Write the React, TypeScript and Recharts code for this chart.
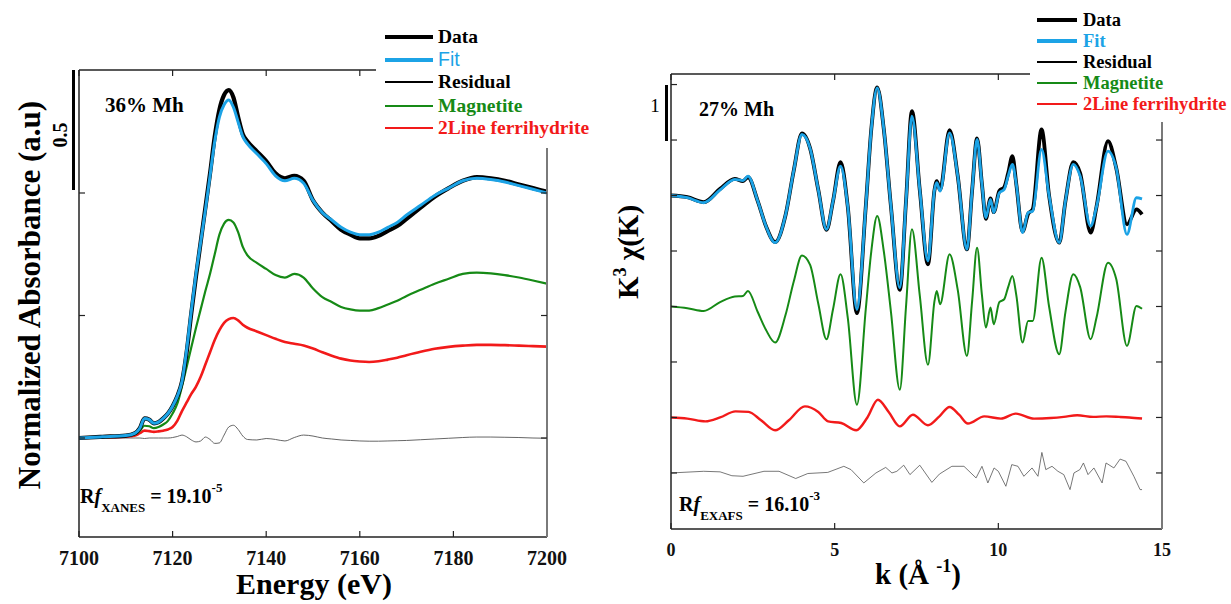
import React from "react";
import { LineChart, Line, XAxis, YAxis } from "recharts";

const SERIF = '"Liberation Serif", "Times New Roman", serif';
const SANS = '"Liberation Sans", Arial, sans-serif';

const BLACK = "#000000";
const BLUE = "#1ca3e6";
const GREEN = "#168a16";
const RED = "#f21a1a";

// ---------- XANES (left panel) ----------
const XANES_E = [
  7100, 7105, 7110, 7112, 7113, 7114, 7115, 7116, 7117, 7118, 7119, 7120, 7121, 7122, 7123, 7124,
  7125, 7126, 7127, 7128, 7129, 7130, 7131, 7132, 7133, 7134, 7135, 7136, 7138, 7140, 7142, 7144,
  7146, 7148, 7150, 7152, 7154, 7156, 7158, 7160, 7162, 7164, 7166, 7168, 7170, 7173, 7176, 7179,
  7182, 7185, 7188, 7191, 7194, 7197, 7200,
];
const XANES_DATA = [
  0, 0.005, 0.01, 0.02, 0.04, 0.08, 0.075, 0.06, 0.065, 0.08, 0.1, 0.13, 0.17, 0.23, 0.35, 0.51,
  0.66, 0.8, 0.94, 1.08, 1.23, 1.34, 1.4, 1.42, 1.39, 1.31, 1.24, 1.21, 1.17, 1.13, 1.08, 1.06,
  1.07, 1.05, 0.97, 0.92, 0.885, 0.85, 0.83, 0.815, 0.815, 0.825, 0.845, 0.865, 0.895, 0.94, 0.985, 1.02,
  1.05, 1.065, 1.06, 1.05, 1.035, 1.02, 1.005,
];
const XANES_FIT = [
  0, 0.005, 0.01, 0.02, 0.04, 0.08, 0.075, 0.06, 0.065, 0.08, 0.1, 0.13, 0.17, 0.23, 0.36, 0.52,
  0.67, 0.8, 0.93, 1.07, 1.21, 1.31, 1.36, 1.38, 1.35, 1.29, 1.23, 1.2, 1.16, 1.12, 1.07, 1.05,
  1.06, 1.04, 0.97, 0.92, 0.89, 0.86, 0.84, 0.83, 0.83, 0.84, 0.86, 0.88, 0.91, 0.95, 0.99, 1.02,
  1.05, 1.06, 1.055, 1.045, 1.03, 1.015, 1.0,
];
const XANES_MAGNETITE = [
  0, 0.003, 0.008, 0.015, 0.03, 0.05, 0.048, 0.04, 0.045, 0.055, 0.07, 0.1, 0.14, 0.21, 0.29, 0.37,
  0.45, 0.525, 0.6, 0.67, 0.75, 0.83, 0.875, 0.89, 0.88, 0.84, 0.78, 0.745, 0.715, 0.69, 0.665, 0.655,
  0.67, 0.655, 0.61, 0.575, 0.555, 0.535, 0.525, 0.52, 0.52, 0.53, 0.545, 0.56, 0.58, 0.605, 0.63, 0.65,
  0.67, 0.675, 0.672, 0.665, 0.655, 0.643, 0.63,
];
const XANES_FERRI = [
  0, 0.002, 0.005, 0.01, 0.02, 0.03, 0.028, 0.025, 0.027, 0.03, 0.035, 0.045, 0.07, 0.11, 0.145, 0.18,
  0.21, 0.25, 0.3, 0.35, 0.4, 0.44, 0.47, 0.485, 0.49, 0.48, 0.462, 0.45, 0.435, 0.42, 0.405, 0.392,
  0.385, 0.378, 0.365, 0.35, 0.336, 0.324, 0.316, 0.312, 0.31, 0.313, 0.32, 0.328, 0.338, 0.352, 0.364, 0.372,
  0.377, 0.38, 0.38, 0.379, 0.377, 0.375, 0.373,
];
const XANES_RESIDUAL = [
  0, 0, 0, 0, 0, -0.002, 0, 0, 0, 0, 0, 0.002, 0.006, 0.012, 0.005, -0.008,
  -0.016, -0.012, 0.004, -0.006, -0.022, -0.02, 0.012, 0.045, 0.052, 0.035, 0.008, -0.006, -0.008, -0.002, -0.006, -0.012,
  0.002, 0.012, 0.008, 0, -0.004, -0.008, -0.01, -0.012, -0.013, -0.013, -0.012, -0.011, -0.01, -0.007, -0.004, -0.001,
  0.002, 0.004, 0.004, 0.003, 0.002, 0, -0.001,
];
const XANES_TICKS = [7100, 7120, 7140, 7160, 7180, 7200];
const XANES_Y_TICKS = [0, 0.5, 1];

// ---------- EXAFS (right panel) ----------
const K_MAIN = [
  0, 0.5, 1.0, 1.5, 1.95, 2.2, 2.35, 2.65, 2.9, 3.18, 3.5, 3.75, 4.0, 4.25, 4.5, 4.75, 4.95, 5.18,
  5.4, 5.68, 5.95, 6.12, 6.3, 6.5, 6.72, 6.99, 7.18, 7.36, 7.6, 7.85, 8.05, 8.12, 8.22, 8.51, 8.76,
  9.04, 9.2, 9.35, 9.5, 9.62, 9.76, 9.86, 10.03, 10.18, 10.3, 10.43, 10.55, 10.74, 10.91, 11.05,
  11.32, 11.55, 11.86, 12.05, 12.29, 12.5, 12.82, 13.0, 13.35, 13.6, 13.93, 14.22, 14.39,
];
const EXAFS_FIT = [
  0, -0.04, -0.13, 0.1, 0.29, 0.27, 0.35, -0.1, -0.55, -0.85, -0.35, 0.45, 1.1, 0.85, 0.1, -0.61, -0.1, 0.53,
  -0.2, -2.05, -0.2, 1.2, 1.94, 1.2, -0.2, -1.66, -0.1, 1.43, 0.1, -1.18, 0.1, 0.23, 0.08, 1.13, 0.35,
  -0.97, 0.1, 1.01, 0.2, -0.4, -0.07, -0.31, 0.05, 0.11, 0.35, 0.56, 0.2, -0.67, -0.31, -0.28,
  0.83, 0, -0.85, -0.1, 0.56, 0.35, -0.55, -0.2, 0.8, 0.5, -0.7, -0.04, -0.06,
];
const EXAFS_DATA = [
  0, -0.03, -0.12, 0.12, 0.3, 0.26, 0.33, -0.1, -0.55, -0.84, -0.35, 0.45, 1.12, 0.85, 0.1, -0.62, -0.1, 0.6,
  -0.2, -2.12, -0.2, 1.2, 1.95, 1.2, -0.2, -1.7, -0.1, 1.52, 0.1, -1.24, 0.1, 0.26, 0.1, 1.18, 0.35,
  -0.97, 0.1, 1.03, 0.2, -0.42, -0.05, -0.3, 0.08, 0.15, 0.4, 0.71, 0.2, -0.65, -0.33, -0.25,
  1.19, 0, -0.85, -0.1, 0.6, 0.4, -0.67, -0.2, 0.98, 0.5, -0.52, -0.25, -0.34,
];
const EXAFS_MAGNETITE = [
  0, -0.03, -0.08, 0.08, 0.18, 0.19, 0.28, -0.1, -0.42, -0.65, -0.15, 0.45, 0.92, 0.75, 0.05, -0.59, -0.05, 0.58,
  -0.2, -1.77, -0.05, 1.0, 1.63, 1.0, -0.1, -1.5, 0, 1.39, 0.2, -1.05, 0.1, 0.28, 0.04, 0.94, 0.3,
  -0.89, 0.1, 1.06, 0.2, -0.38, -0.02, -0.32, 0.08, 0.13, 0.35, 0.55, 0.2, -0.65, -0.26, -0.26,
  0.88, 0, -0.86, -0.1, 0.58, 0.35, -0.59, -0.2, 0.79, 0.5, -0.71, 0.01, -0.04,
];
const K_FERRI = [
  0, 0.5, 1.05, 1.5, 1.97, 2.37, 2.75, 3.18, 3.6, 4.09, 4.5, 4.8, 5.2, 5.66, 6.0, 6.32, 6.65, 6.99,
  7.39, 7.85, 8.2, 8.51, 8.8, 9.07, 9.57, 10.08, 10.53, 11.09, 11.6, 12.0, 12.41, 12.9, 13.3, 13.7, 14.0, 14.39,
];
const EXAFS_FERRI = [
  0, -0.02, -0.07, 0, 0.11, 0.1, -0.05, -0.23, -0.05, 0.2, 0.1, -0.07, -0.1, -0.23, 0, 0.32, 0.1, -0.16,
  0.05, -0.14, 0.02, 0.19, 0.05, -0.11, 0.02, -0.02, 0.07, -0.02, -0.01, 0.01, 0.04, 0.01, 0.02, 0.01, 0, -0.02,
];
const K_RESID = [
  0, 1.0, 1.5, 1.86, 2.2, 2.84, 3.3, 3.81, 4.18, 4.79, 5.28, 5.5, 5.89, 6.26, 6.56, 6.75, 6.9, 7.11, 7.3,
  7.6, 7.97, 8.2, 8.58, 8.95, 9.32, 9.5, 9.68, 9.87, 10.0, 10.23, 10.41, 10.6, 10.78, 11.03, 11.21, 11.33,
  11.45, 11.64, 11.82, 12.0, 12.19, 12.31, 12.49, 12.6, 12.74, 12.92, 13.17, 13.29, 13.53, 13.72, 13.9,
  14.14, 14.33, 14.39,
];
const EXAFS_RESIDUAL = [
  0, 0.03, 0.02, -0.05, -0.06, 0.03, 0.03, -0.1, -0.01, 0.01, 0.12, 0.06, -0.18, 0, 0.1, 0, 0.03, 0.14, -0.03,
  0.14, -0.17, -0.02, 0.12, 0.12, -0.09, 0.12, -0.18, 0.09, 0.03, -0.24, 0.15, 0.12, -0.06, 0.09, -0.06, 0.37,
  0.06, 0.12, 0.03, -0.03, -0.3, 0, 0.06, 0.18, -0.03, 0.09, -0.18, 0.18, 0.09, 0.25, 0.21,
  -0.06, -0.3, -0.3,
];
const K_TICKS = [0, 5, 10, 15];
const K_Y_TICKS = [0, 1, 2, 3, 4, 5, 6, 7];

// stacking offsets of the original figure (k3-weighted units)
const OFFSET_DATA = 5;
const OFFSET_MAGNETITE = 3;
const OFFSET_FERRI = 1;

type Pt = { x: number; y: number };
const toPts = (xs: number[], ys: number[], shift = 0): Pt[] =>
  xs.map((x, i) => ({ x, y: ys[i] + shift }));

interface Series {
  key: string;
  pts: Pt[];
  color: string;
  width: number;
  linear?: boolean;
}

interface PanelProps {
  left: number;
  width: number;
  margin: { top: number; right: number; bottom: number; left: number };
  xDomain: [number, number];
  xTicks: number[];
  topTicks: number[];
  yDomain: [number, number];
  yTicks: number[];
  fontSize: number;
  series: Series[];
}

const noLabel = () => "";

function Panel({ left, width, margin, xDomain, xTicks, topTicks, yDomain, yTicks, fontSize, series }: PanelProps) {
  const dark = { stroke: "#222", strokeWidth: 1.5 };
  const grey = { stroke: "#7a7a7a", strokeWidth: 2 };
  return (
    <div style={{ position: "absolute", left, top: 0 }}>
      <LineChart width={width} height={604} margin={margin}>
        <XAxis
          xAxisId="b"
          type="number"
          dataKey="x"
          domain={xDomain}
          ticks={xTicks}
          interval={0}
          allowDataOverflow
          height={1}
          axisLine={dark}
          tickLine={{ stroke: "#222", strokeWidth: 1.2 }}
          tickSize={-6}
          tickMargin={20}
          tick={{ fontSize, fontWeight: 700, fill: "#111", fontFamily: SERIF }}
        />
        <XAxis
          xAxisId="t"
          orientation="top"
          type="number"
          dataKey="x"
          domain={xDomain}
          ticks={topTicks}
          interval={0}
          allowDataOverflow
          height={1}
          mirror
          axisLine={dark}
          tickLine={{ stroke: "#222", strokeWidth: 1.2 }}
          tickSize={6}
          tickFormatter={noLabel}
        />
        <YAxis
          yAxisId="l"
          type="number"
          domain={yDomain}
          ticks={yTicks}
          interval={0}
          allowDataOverflow
          width={1}
          mirror
          axisLine={dark}
          tickLine={{ stroke: "#222", strokeWidth: 1.2 }}
          tickSize={6}
          tickFormatter={noLabel}
        />
        <YAxis
          yAxisId="r"
          orientation="right"
          type="number"
          domain={yDomain}
          ticks={yTicks}
          interval={0}
          allowDataOverflow
          width={1}
          mirror
          axisLine={grey}
          tickLine={{ stroke: "#222", strokeWidth: 1.2 }}
          tickSize={6}
          tickFormatter={noLabel}
        />
        {series.map((s) => (
          <Line
            key={s.key}
            xAxisId="b"
            yAxisId="l"
            data={s.pts}
            dataKey="y"
            type={s.linear ? "linear" : "monotone"}
            stroke={s.color}
            strokeWidth={s.width}
            dot={false}
            activeDot={false}
            isAnimationActive={false}
          />
        ))}
      </LineChart>
    </div>
  );
}

interface LegendItem {
  label: string;
  color: string;
  width: number;
  font?: string;
  bold?: boolean;
}

function LegendBox({
  left, top, width, height, rows, lineX0, lineX1, textX, fontSize, items,
}: {
  left: number; top: number; width: number; height: number; rows: number[];
  lineX0: number; lineX1: number; textX: number; fontSize: number; items: LegendItem[];
}) {
  return (
    <div style={{ position: "absolute", left, top, width, height, background: "#fff" }}>
      {items.map((it, i) => (
        <React.Fragment key={it.label}>
          <div
            style={{
              position: "absolute",
              left: lineX0,
              width: lineX1 - lineX0,
              top: rows[i] - it.width / 2,
              height: it.width,
              background: it.color,
            }}
          />
          <div
            style={{
              position: "absolute",
              left: textX,
              top: rows[i] - fontSize / 2,
              lineHeight: `${fontSize}px`,
              fontSize,
              fontFamily: it.font ?? SERIF,
              fontWeight: it.bold === false ? 400 : 700,
              color: it.color,
              whiteSpace: "nowrap",
            }}
          >
            {it.label}
          </div>
        </React.Fragment>
      ))}
    </div>
  );
}

function Txt({
  x, y, size, children, rotate = false, bold = true, center = true,
}: {
  x: number; y: number; size: number; children: React.ReactNode; rotate?: boolean; bold?: boolean; center?: boolean;
}) {
  return (
    <div
      style={{
        position: "absolute",
        left: x,
        top: y,
        transform: `translate(${center ? "-50%" : "0"}, -50%)${rotate ? " rotate(-90deg)" : ""}`,
        fontFamily: SERIF,
        fontWeight: bold ? 700 : 400,
        fontSize: size,
        lineHeight: `${size}px`,
        color: "#000",
        whiteSpace: "nowrap",
      }}
    >
      {children}
    </div>
  );
}

function RfLabel({ x, baseline, sub, value, exp }: { x: number; baseline: number; sub: string; value: string; exp: string }) {
  return (
    <div
      style={{
        position: "absolute",
        left: x,
        top: baseline - 17,
        fontFamily: SERIF,
        fontWeight: 700,
        fontSize: 20,
        lineHeight: "20px",
        whiteSpace: "nowrap",
        color: "#000",
      }}
    >
      R<span style={{ fontStyle: "italic" }}>f</span>
      <span style={{ fontSize: 13, position: "relative", top: 9 }}>{sub}</span>
      <span> = {value}</span>
      <span style={{ fontSize: 13, position: "relative", top: -11 }}>{exp}</span>
    </div>
  );
}

export default function App() {
  const xanesSeries: Series[] = [
    { key: "res", pts: toPts(XANES_E, XANES_RESIDUAL), color: "#555", width: 0.9 },
    { key: "ferri", pts: toPts(XANES_E, XANES_FERRI), color: RED, width: 2.6 },
    { key: "mag", pts: toPts(XANES_E, XANES_MAGNETITE), color: GREEN, width: 2.2 },
    { key: "data", pts: toPts(XANES_E, XANES_DATA), color: BLACK, width: 4.2 },
    { key: "fit", pts: toPts(XANES_E, XANES_FIT), color: BLUE, width: 3 },
  ];
  const exafsSeries: Series[] = [
    { key: "res", pts: toPts(K_RESID, EXAFS_RESIDUAL), color: "#555", width: 0.8, linear: true },
    { key: "ferri", pts: toPts(K_FERRI, EXAFS_FERRI, OFFSET_FERRI), color: RED, width: 2.4 },
    { key: "mag", pts: toPts(K_MAIN, EXAFS_MAGNETITE, OFFSET_MAGNETITE), color: GREEN, width: 2 },
    { key: "data", pts: toPts(K_MAIN, EXAFS_DATA, OFFSET_DATA), color: BLACK, width: 3.8 },
    { key: "fit", pts: toPts(K_MAIN, EXAFS_FIT, OFFSET_DATA), color: BLUE, width: 2.8 },
  ];

  return (
    <div
      style={{
        position: "absolute",
        left: 0,
        top: 0,
        width: 1231,
        height: 604,
        background: "#fff",
        overflow: "hidden",
      }}
    >
      <Panel
        left={0}
        width={600}
        margin={{ top: 70, right: 53, bottom: 66, left: 79 }}
        xDomain={[7100, 7200]}
        xTicks={XANES_TICKS}
        topTicks={XANES_TICKS}
        yDomain={[-0.404, 1.502]}
        yTicks={XANES_Y_TICKS}
        fontSize={20}
        series={xanesSeries}
      />
      <Panel
        left={620}
        width={611}
        margin={{ top: 74, right: 69, bottom: 74, left: 51 }}
        xDomain={[0, 15]}
        xTicks={K_TICKS}
        topTicks={K_TICKS}
        yDomain={[-1.01, 7.19]}
        yTicks={K_Y_TICKS}
        fontSize={18}
        series={exafsSeries}
      />

      {/* left panel annotations */}
      <div style={{ position: "absolute", left: 72, top: 70, width: 3, height: 120, background: "#000" }} />
      <Txt x={60} y={135} size={20} rotate>0.5</Txt>
      <Txt x={29} y={295} size={31} rotate>Normalized Absorbance (a.u)</Txt>
      <Txt x={105} y={105} size={21} center={false}>36% Mh</Txt>
      <Txt x={314} y={584} size={30}>Energy (eV)</Txt>
      <RfLabel x={80} baseline={503} sub="XANES" value="19.10" exp="-5" />
      <LegendBox
        left={376}
        top={18}
        width={230}
        height={130}
        rows={[19, 42, 64, 88, 110]}
        lineX0={9}
        lineX1={57}
        textX={62}
        fontSize={19.5}
        items={[
          { label: "Data", color: BLACK, width: 4 },
          { label: "Fit", color: BLUE, width: 4, font: SANS, bold: false },
          { label: "Residual", color: BLACK, width: 1.5 },
          { label: "Magnetite", color: GREEN, width: 2.5 },
          { label: "2Line ferrihydrite", color: RED, width: 2.5 },
        ]}
      />

      {/* right panel annotations */}
      <div style={{ position: "absolute", left: 665, top: 85, width: 3, height: 56, background: "#000" }} />
      <Txt x={655} y={105} size={19} bold={false}>1</Txt>
      <Txt x={630} y={252} size={29} rotate>
        K<span style={{ fontSize: 18, position: "relative", top: -12 }}>3</span> χ(K)
      </Txt>
      <Txt x={699} y={109} size={20} center={false}>27% Mh</Txt>
      <Txt x={918} y={576} size={29}>
        k (Å <span style={{ fontSize: 18, position: "relative", top: -12 }}>-1</span>)
      </Txt>
      <RfLabel x={679} baseline={511} sub="EXAFS" value="16.10" exp="-3" />
      <LegendBox
        left={1030}
        top={0}
        width={201}
        height={122}
        rows={[20, 41, 62, 83, 104]}
        lineX0={7}
        lineX1={47}
        textX={53}
        fontSize={18.5}
        items={[
          { label: "Data", color: BLACK, width: 4 },
          { label: "Fit", color: BLUE, width: 4 },
          { label: "Residual", color: BLACK, width: 1.5 },
          { label: "Magnetite", color: GREEN, width: 2.5 },
          { label: "2Line ferrihydrite", color: RED, width: 2.5 },
        ]}
      />
    </div>
  );
}
